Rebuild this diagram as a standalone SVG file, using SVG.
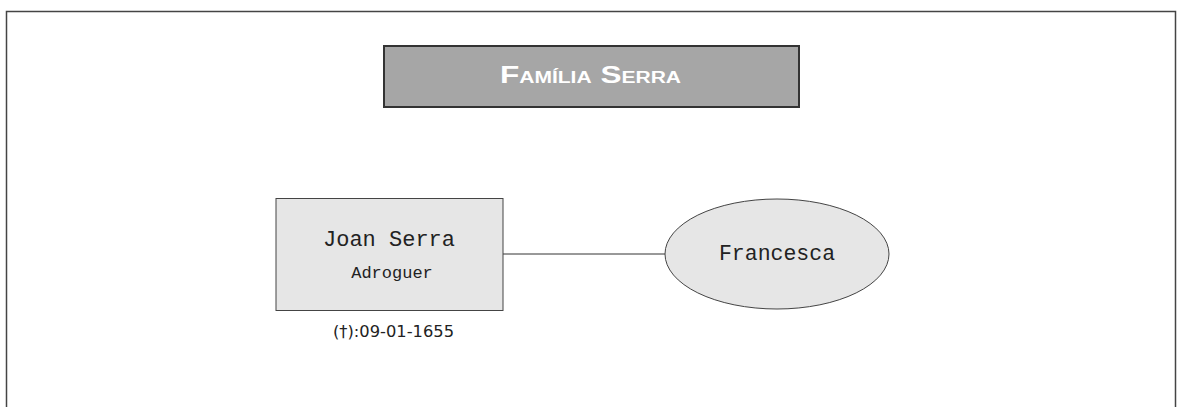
<svg xmlns="http://www.w3.org/2000/svg" width="1177" height="407" viewBox="0 0 1177 407">
<style>
.frame{fill:none;stroke:#444;stroke-width:1.5}
.title{fill:#a6a6a6;stroke:#333;stroke-width:2}
.node{fill:#e6e6e6;stroke:#444;stroke-width:1}
.mono{font-family:"Liberation Mono","Courier New",monospace;fill:#222;text-anchor:middle}
.conn{stroke:#333;stroke-width:1;fill:none}
</style>
<rect width="1177" height="407" fill="#fff"/>
<path class="frame" d="M6.5,420 V11.5 H1175.5 V420"/>
<g id="title">
<rect class="title" x="384" y="46" width="415" height="61"/>
<text x="500" y="83" font-family="Liberation Sans, Arial, sans-serif" font-weight="bold" fill="#fff" font-size="24" textLength="181" lengthAdjust="spacingAndGlyphs">F<tspan font-size="16">AMÍLIA</tspan> S<tspan font-size="16">ERRA</tspan></text>
</g>
<g id="connectors">
<line class="conn" x1="503" y1="254" x2="665" y2="254"/>
</g>
<g id="joan">
<rect class="node" x="276" y="198.5" width="227" height="112"/>
<text class="mono" x="389" y="246" font-size="22">Joan Serra</text>
<text class="mono" x="392" y="278" font-size="17">Adroguer</text>
<text x="333" y="337" font-family="DejaVu Sans Condensed, Liberation Sans, sans-serif" font-stretch="condensed" font-size="15" fill="#222" textLength="121" lengthAdjust="spacingAndGlyphs">(†):09-01-1655</text>
</g>
<g id="francesca">
<ellipse class="node" cx="777" cy="254" rx="112" ry="55"/>
<text class="mono" x="777" y="260" font-size="21.5">Francesca</text>
</g>
</svg>
